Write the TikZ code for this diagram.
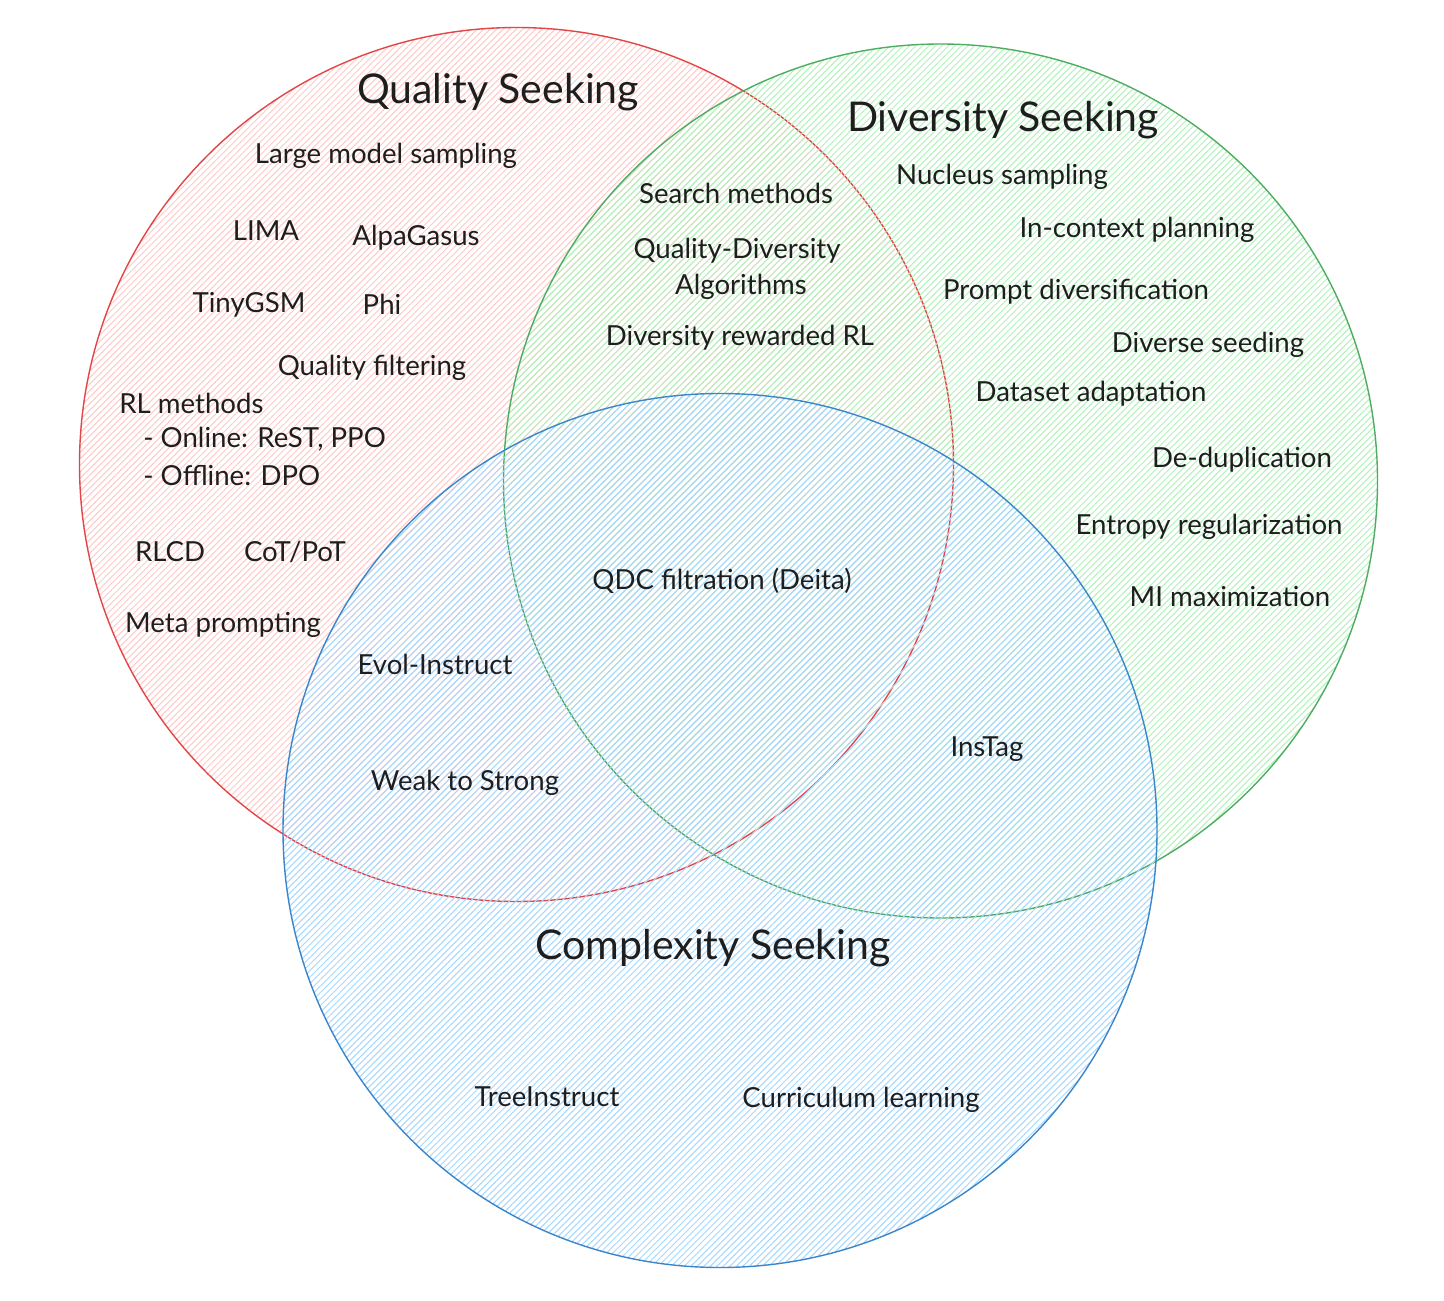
\documentclass[tikz,border=0pt]{standalone}
\usepackage{fontspec}
\setmainfont{Lato}
\usetikzlibrary{patterns.meta}
\definecolor{txt}{HTML}{1E1E1E}
\definecolor{redS}{HTML}{E03131}
\definecolor{greenS}{HTML}{2F9E44}
\definecolor{blueS}{HTML}{1971C2}
\definecolor{redF}{HTML}{FFC9C9}
\definecolor{greenF}{HTML}{B2F2BB}
\definecolor{blueF}{HTML}{A5D8FF}
\tikzset{
  venn/.style={line width=0.7pt},
  hatch/.style={pattern={Lines[angle=45,distance=2.3pt,line width=0.5pt]}, pattern color=#1},
  lbl/.style={font=\fontsize{13.8}{16}\selectfont, text=txt, inner sep=0pt, anchor=center, yshift=-1.3pt},
  ttl/.style={font=\fontsize{20.5}{24}\selectfont, text=txt, inner sep=0pt, anchor=center, yshift=-1pt},
}
\begin{document}
\begin{tikzpicture}[x=0.5pt,y=-0.5pt]
\useasboundingbox[fill=white] (0,0) rectangle (1444,1300);
% circles
\path[hatch=redF] (516.5,464.5) circle[radius=218.5pt];
\draw[venn, redS!90] (516.5,464.5) circle[radius=218.5pt];
\path[hatch=greenF] (940.5,481) circle[radius=218.5pt];
\draw[venn, greenS!85] (940.5,481) circle[radius=218.5pt];
\path[hatch=blueF] (720,830.5) circle[radius=218.5pt];
\draw[venn, blueS!85] (720,830.5) circle[radius=218.5pt];
% titles
\node[ttl] (tq) at (498,90) {Quality Seeking};
\node[ttl] (td) at (1003,118) {Diversity Seeking};
\node[ttl] (tc) at (713,946) {Complexity Seeking};
% quality
\node[lbl] (lms) at (386,153) {Large model sampling};
\node[lbl] (lima) at (266,228) {LIMA};
\node[lbl] (alpa) at (416,235) {AlpaGasus};
\node[lbl] (tiny) at (249,302) {TinyGSM};
\node[lbl] (phi) at (382,302) {Phi};
\node[lbl] (qf) at (372,365) {Quality filtering};
\node[lbl, anchor=west] (rl) at (119,401) {RL methods};
\node[lbl, anchor=west] (rlon) at (143,437) {- Online: ReST, PPO};
\node[lbl, anchor=west] (rloff) at (143,473) {- Offline: DPO};
\node[lbl] (rlcd) at (170,549) {RLCD};
\node[lbl] (cot) at (295,549) {CoT/PoT};
\node[lbl] (meta) at (223,622) {Meta prompting};
% quality & complexity
\node[lbl] (evol) at (435,662) {Evol-Instruct};
\node[lbl] (weak) at (465,780) {Weak to Strong};
% quality & diversity
\node[lbl] (search) at (736,191) {Search methods};
\node[lbl] (qd1) at (737,248) {Quality-Diversity};
\node[lbl] (qd2) at (741,284) {Algorithms};
\node[lbl] (drl) at (740,335) {Diversity rewarded RL};
% diversity
\node[lbl] (nuc) at (1002,174) {Nucleus sampling};
\node[lbl] (icp) at (1137,227) {In-context planning};
\node[lbl] (pd) at (1076,289) {Prompt diversification};
\node[lbl] (ds) at (1208,342) {Diverse seeding};
\node[lbl] (da) at (1091,391) {Dataset adaptation};
\node[lbl] (dd) at (1242,457) {De-duplication};
\node[lbl] (er) at (1209,524) {Entropy regularization};
\node[lbl] (mi) at (1230,594) {MI maximization};
% center
\node[lbl] (qdc) at (722,578) {QDC filtration (Deita)};
\node[lbl] (ins) at (987,747) {InsTag};
% complexity
\node[lbl] (tree) at (547,1094) {TreeInstruct};
\node[lbl] (curr) at (861,1097) {Curriculum learning};
\end{tikzpicture}
\end{document}
